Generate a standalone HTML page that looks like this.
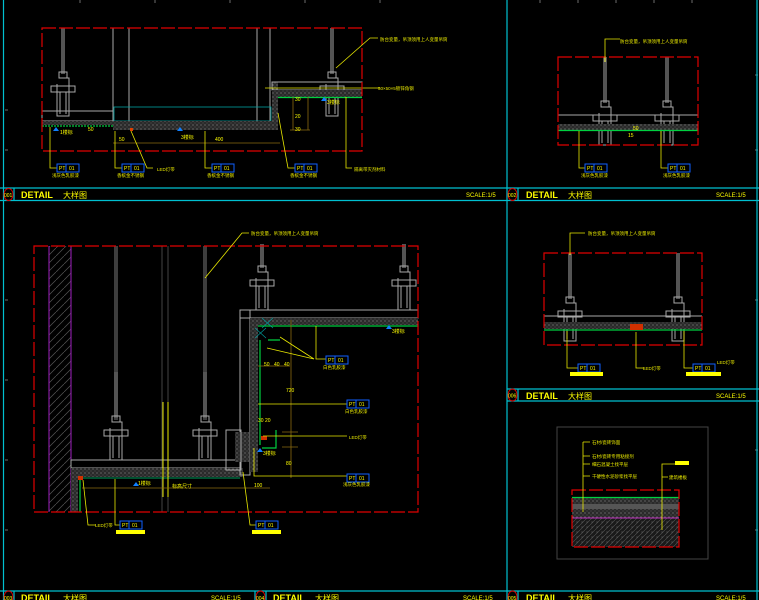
<!DOCTYPE html>
<html><head><meta charset="utf-8"><style>
html,body{margin:0;padding:0;background:#000;}
svg{display:block;}
text{font-family:"Liberation Sans","Noto Sans CJK SC",sans-serif;}
.t{fill:#e8e800;font-size:4.5px;}
.det{fill:#ffff00;font-size:9px;font-weight:bold;}
.cn{fill:#ffff00;font-size:8px;}
.sc{fill:#ffff00;font-size:6px;}
.num{fill:#ffff00;font-size:5px;}
.g{stroke:#a8a8a8;fill:none;stroke-width:1;}
.y{stroke:#e8e800;fill:none;stroke-width:0.8;}
.d{stroke:#8a6a10;fill:none;stroke-width:0.8;}
.rd{stroke:#e00000;fill:none;stroke-width:1.2;stroke-dasharray:14 3;}
.bx{stroke:#1060ff;fill:none;stroke-width:1;}
.cy{stroke:#00c0d0;stroke-width:1.2;fill:none;}
.gr{stroke:#00d040;stroke-width:1.2;}
</style></head><body>
<svg width="759" height="600" viewBox="0 0 759 600" xmlns="http://www.w3.org/2000/svg">
<defs>
<pattern id="hp" width="4" height="4" patternUnits="userSpaceOnUse"><rect width="4" height="4" fill="#2a2a2a"/><circle cx="1" cy="1" r="0.6" fill="#888"/><circle cx="3" cy="3" r="0.5" fill="#666"/></pattern>
<pattern id="dg" width="8" height="8" patternUnits="userSpaceOnUse"><path d="M0,8 L8,0" stroke="#555" stroke-width="0.7"/></pattern>
<pattern id="cr" width="5" height="5" patternUnits="userSpaceOnUse"><rect width="5" height="5" fill="#1a1a1a"/><path d="M0,5 L5,0" stroke="#555" stroke-width="0.6"/><circle cx="2" cy="2" r="0.5" fill="#777"/></pattern>
<g id="hg">
<path class="g" d="M-1,0 V46 M1,0 V46"/>
<rect x="-4" y="44" width="8" height="6" class="g"/>
<rect x="-12" y="58" width="24" height="6" class="g"/>
<path class="g" d="M-6,56 V88 H6 V50 H2 M-3,64 V86 M3,64 V86"/>
</g>
<g id="hgs">
<path class="g" d="M-1,22 V46 M1,22 V46"/>
<rect x="-4" y="44" width="8" height="6" class="g"/>
<rect x="-12" y="58" width="24" height="6" class="g"/>
<path class="g" d="M-6,56 V88 H6 V50 H2 M-3,64 V86 M3,64 V86"/>
</g>
<g id="lb"><rect x="0" y="0" width="22" height="8" class="bx"/><line x1="9" y1="0" x2="9" y2="8" stroke="#1060ff"/><text x="2" y="6" class="num">PT</text><text x="12" y="6" class="num">01</text></g>
</defs>

<g stroke="#888" stroke-width="0.8">
<line x1="80" y1="0" x2="80" y2="3"/><line x1="155" y1="0" x2="155" y2="3"/><line x1="230" y1="0" x2="230" y2="3"/><line x1="305" y1="0" x2="305" y2="3"/><line x1="380" y1="0" x2="380" y2="3"/><line x1="540" y1="0" x2="540" y2="3"/><line x1="578" y1="0" x2="578" y2="3"/><line x1="616" y1="0" x2="616" y2="3"/><line x1="654" y1="0" x2="654" y2="3"/><line x1="692" y1="0" x2="692" y2="3"/>
<line x1="5" y1="110" x2="8" y2="110"/><line x1="5" y1="150" x2="8" y2="150"/><line x1="5" y1="300" x2="8" y2="300"/><line x1="5" y1="380" x2="8" y2="380"/><line x1="5" y1="460" x2="8" y2="460"/><line x1="5" y1="530" x2="8" y2="530"/>
<line x1="755" y1="75" x2="758" y2="75"/><line x1="755" y1="150" x2="758" y2="150"/><line x1="755" y1="300" x2="758" y2="300"/><line x1="755" y1="450" x2="758" y2="450"/><line x1="755" y1="530" x2="758" y2="530"/>
</g>

<g class="cy">
<line x1="3.5" y1="0" x2="3.5" y2="600"/>
<line x1="507" y1="0" x2="507" y2="600"/>
<line x1="757" y1="0" x2="757" y2="600"/>
<line x1="0" y1="188" x2="759" y2="188"/><line x1="0" y1="200.5" x2="759" y2="200.5"/>
<line x1="507" y1="389" x2="759" y2="389"/><line x1="507" y1="401" x2="759" y2="401"/>
<line x1="0" y1="591" x2="759" y2="591"/>
<line x1="14" y1="188" x2="14" y2="201"/><line x1="518" y1="188" x2="518" y2="201"/><line x1="518" y1="389" x2="518" y2="401"/>
<line x1="14" y1="591" x2="14" y2="600"/><line x1="255" y1="591" x2="255" y2="600"/><line x1="266" y1="591" x2="266" y2="600"/><line x1="518" y1="591" x2="518" y2="600"/>
</g>
<g>
<ellipse cx="8.5" cy="194.5" rx="4.5" ry="6" fill="none" stroke="#e00000"/><text x="4" y="197" class="num">001</text>
<text x="21" y="198" class="det">DETAIL</text><text x="63" y="198" class="cn">大样图</text><text x="466" y="197" class="sc">SCALE:1/5</text>
<ellipse cx="512.5" cy="194.5" rx="4.5" ry="6" fill="none" stroke="#e00000"/><text x="508" y="197" class="num">002</text>
<text x="526" y="198" class="det">DETAIL</text><text x="568" y="198" class="cn">大样图</text><text x="716" y="197" class="sc">SCALE:1/5</text>
<ellipse cx="512.5" cy="395" rx="4.5" ry="6" fill="none" stroke="#e00000"/><text x="508" y="397.5" class="num">006</text>
<text x="526" y="399" class="det">DETAIL</text><text x="568" y="399" class="cn">大样图</text><text x="716" y="398" class="sc">SCALE:1/5</text>
<ellipse cx="8.5" cy="597" rx="4.5" ry="6" fill="none" stroke="#e00000"/><text x="4" y="600" class="num">003</text>
<text x="21" y="601" class="det">DETAIL</text><text x="63" y="601" class="cn">大样图</text><text x="211" y="600" class="sc">SCALE:1/5</text>
<ellipse cx="260.5" cy="597" rx="4.5" ry="6" fill="none" stroke="#e00000"/><text x="256" y="600" class="num">004</text>
<text x="273" y="601" class="det">DETAIL</text><text x="315" y="601" class="cn">大样图</text><text x="463" y="600" class="sc">SCALE:1/5</text>
<ellipse cx="512.5" cy="597" rx="4.5" ry="6" fill="none" stroke="#e00000"/><text x="508" y="600" class="num">005</text>
<text x="526" y="601" class="det">DETAIL</text><text x="568" y="601" class="cn">大样图</text><text x="716" y="600" class="sc">SCALE:1/5</text>
</g>

<!-- 001 -->
<g>
<path class="g" d="M113,28 V122 M129,28 V122 M257,28 V122 M270,28 V122"/>
<use href="#hg" x="63" y="28"/>
<use href="#hg" x="332" y="28"/>
<rect x="42" y="111" width="71" height="10" class="g"/>
<rect x="42" y="121" width="71" height="4" fill="url(#hp)"/>
<line x1="42" y1="126" x2="113" y2="126" class="gr" stroke-dasharray="2 1"/>
<rect x="114" y="107" width="157" height="14" fill="none" stroke="#00a0a0" stroke-width="0.8"/>
<rect x="113" y="121" width="165" height="9" fill="url(#hp)"/>
<rect x="272" y="82" width="6" height="48" fill="url(#hp)"/>
<rect x="272" y="82" width="90" height="8" class="g"/>
<rect x="272" y="90" width="90" height="7" fill="url(#hp)"/>
<line x1="278" y1="97.5" x2="362" y2="97.5" class="gr"/>
<line x1="265" y1="88" x2="380" y2="88" class="y"/>
<text x="378" y="90" class="t">50×50×5镀锌角钢</text>
<rect x="130" y="128" width="3" height="3" fill="#e04000"/>
<path class="d" d="M113,143 H280 M293,97 V130 M308,97 V130 M290,130 H310"/>
<rect x="42" y="28" width="320" height="123" class="rd"/>
<path class="y" d="M50,127 V168 H57 M115,131 V168 H122 M131,131 L147,168 H153 M205,131 V168 H212 M278,113 L288,168 H295 M346,97 V168 H352"/>
<path class="y" d="M336,68 L370,38 H378"/>
<text x="380" y="41" class="t">防台变量，吊顶须用上人变量吊筒</text>
<use href="#lb" x="57" y="164"/><use href="#lb" x="122" y="164"/><use href="#lb" x="212" y="164"/><use href="#lb" x="295" y="164"/>
<text x="52" y="177" class="t">浅灰色乳胶漆</text><text x="117" y="177" class="t">香槟金不锈钢</text><text x="157" y="171" class="t">LED灯带</text><text x="207" y="177" class="t">香槟金不锈钢</text><text x="290" y="177" class="t">香槟金不锈钢</text><text x="354" y="171" class="t">隔离带灭剂材料</text>
<g fill="#1080ff"><path d="M56,127 l3,4 h-6z"/><path d="M180,127 l3,4 h-6z"/><path d="M324,97 l3,4 h-6z"/></g>
<text x="60" y="134" class="num">1楼标</text><text x="181" y="139" class="num">3楼标</text><text x="327" y="104" class="num">3楼标</text>
<text x="88" y="131" class="num">50</text><text x="119" y="141" class="num">50</text><text x="215" y="141" class="num">400</text><text x="295" y="101" class="num">30</text><text x="295" y="118" class="num">20</text><text x="295" y="131" class="num">30</text>
</g>

<!-- 002 -->
<g>
<use href="#hg" x="605" y="57"/><use href="#hg" x="667" y="57"/>
<line x1="558" y1="115" x2="698" y2="115" class="g"/>
<rect x="558" y="124" width="140" height="6" fill="url(#hp)"/>
<line x1="558" y1="130.5" x2="698" y2="130.5" class="gr"/>
<text x="633" y="130" class="num">50</text><text x="628" y="137" class="num">15</text>
<rect x="558" y="57" width="140" height="88" class="rd"/>
<path class="y" d="M579,131 V168 H585 M661,131 V168 H668 M605,62 V39 H620"/>
<text x="620" y="43" class="t">防台变量，吊顶须用上人变量吊筒</text>
<use href="#lb" x="585" y="164"/><use href="#lb" x="668" y="164"/>
<text x="581" y="177" class="t">浅灰色乳胶漆</text><text x="663" y="177" class="t">浅灰色乳胶漆</text>
</g>

<!-- 006 -->
<g>
<use href="#hg" x="570" y="253"/><use href="#hg" x="678" y="253"/>
<line x1="544" y1="316" x2="702" y2="316" class="g"/>
<rect x="544" y="322" width="158" height="7" fill="url(#hp)"/>
<line x1="544" y1="330" x2="702" y2="330" class="gr"/>
<rect x="630" y="324" width="13" height="6" fill="#d03000"/>
<rect x="544" y="253" width="158" height="92" class="rd"/>
<path class="y" d="M570,255 V233 H585 M567,331 V368 H578 M636,332 V368 H645 M684,331 V368 H693"/>
<text x="588" y="235" class="t">防台变量，吊顶须用上人变量吊筒</text>
<use href="#lb" x="578" y="364"/><use href="#lb" x="693" y="364"/>
<rect x="570" y="372" width="33" height="4" fill="#ffff00"/><rect x="686" y="372" width="35" height="4" fill="#ffff00"/>
<text x="643" y="370" class="t">LED灯带</text><text x="717" y="364" class="t">LED灯带</text>
</g>

<!-- 005 -->
<g>
<rect x="557" y="427" width="151" height="132" fill="none" stroke="#444" stroke-width="1"/>
<rect x="572" y="497" width="107" height="50" fill="url(#cr)"/>
<rect x="572" y="497" width="107" height="21" fill="url(#hp)"/>
<rect x="572" y="504" width="107" height="5" fill="#555"/>
<line x1="572" y1="497.5" x2="679" y2="497.5" class="gr"/>
<line x1="572" y1="518" x2="679" y2="518" stroke="#c030c0" stroke-width="1"/>
<rect x="572" y="490" width="107" height="57" class="rd"/>
<path class="y" d="M583,442 V512 M583,442 H590 M583,456 H590 M583,464 H590 M583,476 H590 M662,530 V464 H675 M662,477 H668"/>
<rect x="675" y="461" width="14" height="4" fill="#ffff00"/>
<text x="592" y="444" class="t">石材/瓷砖饰面</text><text x="592" y="458" class="t">石材/瓷砖专用粘接剂</text><text x="592" y="466" class="t">细石混凝土找平层</text><text x="592" y="478" class="t">干硬性水泥砂浆找平层</text><text x="669" y="479" class="t">建筑楼板</text>
</g>

<!-- 003 / 004 -->
<g>
<rect x="49" y="246" width="22" height="266" fill="url(#dg)"/>
<path d="M49,246 V512 M71,246 V512" stroke="#a020c0" stroke-width="1"/>
<path d="M162,246 V512 M168,246 V512" stroke="#555" stroke-width="0.8"/>
<path d="M115,246 V420 M117,246 V420 M204,246 V420 M206,246 V420" stroke="#999" stroke-width="0.8"/>
<use href="#hg" x="116" y="372"/><use href="#hg" x="205" y="372"/>
<use href="#hgs" x="262" y="222"/><use href="#hgs" x="404" y="222"/>
<rect x="71" y="460" width="169" height="8" class="g"/>
<rect x="71" y="468" width="172" height="9" fill="url(#hp)"/>
<rect x="71" y="468" width="7" height="44" fill="url(#hp)"/>
<line x1="78" y1="478" x2="240" y2="478" stroke="#00a060" stroke-width="1"/>
<line x1="80" y1="478" x2="80" y2="512" class="gr"/>
<rect x="240" y="310" width="178" height="8" class="g"/>
<rect x="240" y="310" width="10" height="165" class="g"/>
<rect x="250" y="318" width="168" height="7" fill="url(#hp)"/>
<rect x="250" y="318" width="8" height="154" fill="url(#hp)"/>
<rect x="235" y="432" width="14" height="30" fill="url(#hp)"/>
<rect x="226" y="430" width="15" height="40" class="g"/>
<path class="gr" d="M258,326 H418 M260,340 V445 M268,340 H280 M262,448 H276 V430"/>
<path d="M262,318 L273,328 M273,318 L262,328 M255,328 L266,338 M266,328 L255,338" stroke="#00a0a0" stroke-width="0.6"/>
<rect x="261" y="436" width="6" height="4" fill="#d03000"/>
<rect x="78" y="476" width="5" height="4" fill="#d03000"/>
<path d="M163,402 V497 M168,402 V497" stroke="#e8e800" stroke-width="1"/>
<path class="d" d="M82,488 H270 M258,366 H290 M291,320 V478 M282,432 H298 M282,447 H298"/>
<rect x="34" y="246" width="384" height="266" class="rd"/>
<path class="y" d="M205,278 L242,233 H249 M83,480 L88,525 H96 M115,479 V525 H120 M243,472 L250,525 H256 M316,326 V359 H326 M280,337 L314,359 M267,348 L314,359 M258,404 H347 M263,436 H347 M254,448 V476 H347"/>
<text x="251" y="235" class="t">防台变量，吊顶须用上人变量吊筒</text>
<use href="#lb" x="120" y="521"/><use href="#lb" x="256" y="521"/>
<rect x="116" y="530" width="29" height="4" fill="#ffff00"/><rect x="252" y="530" width="29" height="4" fill="#ffff00"/>
<text x="95" y="527" class="t">LED灯带</text>
<use href="#lb" x="326" y="356"/><use href="#lb" x="347" y="400"/><use href="#lb" x="347" y="474"/>
<text x="323" y="369" class="t">白色乳胶漆</text><text x="345" y="413" class="t">白色乳胶漆</text><text x="349" y="439" class="t">LED灯带</text><text x="343" y="486" class="t">浅灰色乳胶漆</text>
<g fill="#1080ff"><path d="M136,482 l3,4 h-6z"/><path d="M260,448 l3,4 h-6z"/><path d="M389,325 l3,4 h-6z"/></g>
<text x="138" y="485" class="num">1楼标</text><text x="263" y="455" class="num">3楼标</text><text x="392" y="333" class="num">3楼标</text>
<text x="172" y="488" class="num">标高尺寸</text><text x="254" y="487" class="num">100</text>
<text x="264" y="366" class="num">50</text><text x="274" y="366" class="num">40</text><text x="284" y="366" class="num">40</text>
<text x="286" y="392" class="num">720</text><text x="286" y="465" class="num">80</text><text x="258" y="422" class="num">30 20</text>
</g>
</svg>
</body></html>
